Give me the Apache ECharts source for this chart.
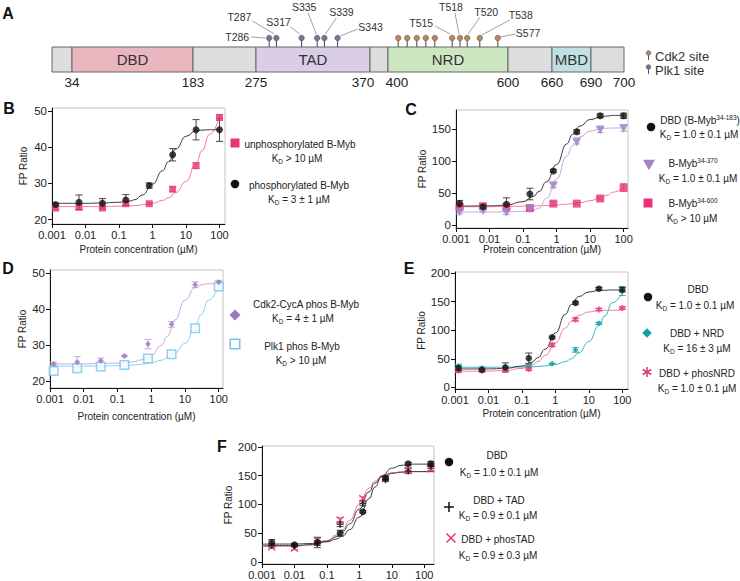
<!DOCTYPE html>
<html><head><meta charset="utf-8">
<script src="https://cdn.jsdelivr.net/npm/echarts@6/dist/echarts.min.js"></script>
<style>html,body{margin:0;padding:0;background:#fff}#c{width:740px;height:581px}</style>
</head><body><div id="c"></div>
<script>
// ===================== DATA =====================
// Panel A – B-Myb domain schematic
const domainKnots = [1, 34, 183, 275, 370, 400, 600, 660, 690, 700];
const domainNames = ['', 'DBD', '', 'TAD', '', 'NRD', '', 'MBD', ''];
const residueLabels = [34, 183, 275, 370, 400, 600, 660, 690, 700];
const plk1Sites = [286, 292, 313, 326, 332, 343];
const plk1Labels = ['T286', 'T287', 'S317', 'S335', 'S339', 'S343'];
const cdk2Sites = [417, 432, 448, 463, 478, 507, 520, 532, 553, 583];
const cdk2Labels = ['', '', '', '', '', 'T515', 'T518', 'T520', 'T538', 'S577'];

// common x tick labels (µM)
const xTickValues = [0.001, 0.01, 0.1, 1, 10, 100];

// concentrations (µM), 5-fold dilution series
const conc = [0.00128, 0.0064, 0.032, 0.16, 0.8, 4, 20, 100];
const concF = [0.002, 0.01, 0.051, 0.256, 1.28, 6.4, 32, 160];
const fitX = [0.001, 0.01, 0.03, 0.1, 0.2, 0.3, 0.5, 1, 2, 3, 5, 10, 20, 30, 50, 100];
const fitXF = [0.001, 0.01, 0.03, 0.1, 0.2, 0.3, 0.5, 1, 2, 3, 5, 10, 20, 50, 200];

// Panel B
const bUnphos = [23.2, 23.4, 23.2, 24.4, 24.4, 28.4, 34.9, 48.2];
const bUnphosErr = [0.5, 0.6, 0.4, 0.4, 0.3, 0.6, 0.8, 0.8];
const bUnphosFit = [23.6, 23.6, 23.6, 23.7, 23.8, 23.9, 24.1, 24.5, 25.3, 26.0, 27.5, 30.5, 35.5, 39.0, 43.5, 48.3];
const bPhos = [24.2, 24.8, 24.5, 25.4, 29.4, 37.9, 44.8, 44.8];
const bPhosErr = [0.3, 2.0, 1.3, 1.5, 0.7, 1.7, 2.8, 3.2];
const bPhosFit = [24.5, 24.5, 24.6, 24.8, 25.1, 25.5, 26.8, 29.8, 33.5, 36.0, 39.5, 43.0, 44.5, 44.7, 44.8, 44.8];

// Panel C
const cDBD = [34, 29, 33, 49, 85, 146, 171, 171];
const cDBDErr = [5, 3, 10, 9, 2, 3, 3, 4];
const cDBDFit = [30, 30.5, 31.5, 37, 45, 53, 68, 95, 127, 142, 155, 165, 169, 170.5, 171.5, 172];
const c370 = [21, 23, 20, 26, 62, 130, 149, 151];
const c370Err = [3, 2, 3, 3, 3, 3, 4, 4];
const c370Fit = [21, 21, 21, 22, 24, 27, 42, 72, 108, 124, 138, 147, 150.5, 151.5, 152, 152];
const c600 = [29, 30, 29, 27, 34, 34, 42, 59];
const c600Err = [3, 2, 3, 3, 3, 2, 2, 6];
const c600Fit = [29, 29.2, 29.5, 30, 30.3, 30.6, 31, 32, 33, 34, 35.5, 38.5, 43, 46.5, 52, 59];

// Panel D
const dCdk = [24.8, 25.3, 25.7, 27.0, 30.3, 35.8, 46.8, 47.5];
const dCdkErr = [0.5, 1.5, 0.7, 0.2, 1.3, 0.8, 0.8, 0.5];
const dCdkFit = [24.8, 24.8, 24.9, 25.0, 25.2, 25.4, 25.9, 27.2, 30.0, 32.5, 37.0, 42.5, 46.0, 46.8, 47.1, 47.2];
const dPlk = [22.8, 23.6, 24.1, 24.5, 26.3, 27.5, 34.7, 46.3];
const dPlkErr = [0.4, 0.4, 0.3, 0.3, 0.3, 0.3, 0.5, 0.5];
const dPlkFit = [24.2, 24.2, 24.2, 24.3, 24.4, 24.5, 24.7, 25.1, 25.8, 26.5, 27.8, 30.5, 35.0, 38.5, 42.5, 46.5];

// Panel E
const eDBD = [33.6, 30.7, 34.8, 51, 87.5, 147.8, 172.8, 171];
const eDBDErr = [4, 2, 8, 9, 2, 2, 2, 4];
const eDBDFit = [32, 32.2, 33, 37, 44, 52, 67, 95, 128, 145, 159, 167, 169.5, 170, 170.5, 170.5];
const eNRD = [36.5, 33.6, 34.8, 37.7, 41.2, 65.5, 112, 168.7];
const eNRDErr = [4, 2, 2, 2, 1, 4, 2, 8];
const eNRDFit = [35, 35, 35.2, 35.5, 36, 36.5, 37.5, 40, 45, 50, 60, 80, 108, 125, 148, 166];
const ePhosNRD = [29, 29, 30.7, 31.9, 74.2, 118.8, 136.2, 139];
const ePhosNRDErr = [3, 2, 2, 2, 3, 3, 2, 2];
const ePhosNRDFit = [28, 28.3, 29.5, 33, 39, 45, 56, 78, 104, 116, 126, 132, 134.5, 135, 135, 135];

// Panel F
const fDBD = [33.9, 29.9, 33.9, 50, 87.4, 146, 170.7, 170.7];
const fDBDErr = [5, 2, 9, 5, 2, 3, 2, 4];
const fDBDFit = [31, 31.2, 32, 35, 40, 45, 56, 78, 110, 130, 150, 163, 168, 170, 170];
const fTAD = [28.7, 28.2, 32.8, 65.5, 101.7, 143, 158, 166.7];
const fTADErr = [3, 2, 4, 4, 4, 3, 4, 4];
const fTADFit = [28, 28.5, 30, 36, 44, 52, 66, 92, 122, 137, 148, 154, 156, 157, 157];
const fPhosTAD = [25.9, 24.1, 37.4, 73, 110.3, 144.8, 159.2, 162];
const fPhosTADErr = [2, 3, 4, 4, 3, 3, 4, 3];
const fPhosTADFit = [27, 27.5, 29.5, 37, 47, 56, 72, 100, 128, 140, 150, 155, 156.5, 157, 157];

// ===================== LAYOUT / STYLE =====================
const FONT = '"Liberation Sans", Arial, Helvetica, sans-serif';
const schematicSegWidth = [20, 121, 63, 114, 18, 120, 44, 39, 33]; // drawn (not to scale) width of each segment
const domainColor = {'': '#dddddd', DBD: '#e9b6c0', TAD: '#dacde6', NRD: '#cee7c2', MBD: '#c0e1e3'};
const COL = {
  black: '#111111', blackLine: '#3a3a3a', blackErr: '#444444',
  pink: '#e8337a', pinkLine: '#f27aa7', pinkErr: '#ee6a9b',
  purple: '#a284c6', purpleLine: '#c2a8dc', purpleErr: '#b79bd4',
  dpurple: '#9a78bd', dpurpleLine: '#c4a9df',
  blue: '#74c4ee', blueLine: '#8ed1f3',
  teal: '#16a0a3', tealLine: '#39b6b8',
  cdk2: '#b98558', plk1: '#6b7898'
};

// residue -> schematic coordinate (piecewise linear)
const cum = [0];
schematicSegWidth.forEach((w, i) => cum.push(cum[i] + w));
function toDrawn(r) {
  for (let i = 0; i < domainKnots.length - 1; i++) {
    if (r <= domainKnots[i + 1] || i === domainKnots.length - 2) {
      const t = (r - domainKnots[i]) / (domainKnots[i + 1] - domainKnots[i]);
      return cum[i] + t * schematicSegWidth[i];
    }
  }
}

const option = {
  animation: false,
  textStyle: {fontFamily: FONT},
  grid: [], xAxis: [], yAxis: [], series: [], graphic: []
};

// ---------- Panel A ----------
option.grid.push({left: 52, top: 47, width: 572, height: 25, show: false});
option.xAxis.push({type: 'value', gridIndex: 0, min: 0, max: cum[cum.length - 1], show: false});
option.yAxis.push({type: 'value', gridIndex: 0, min: 0, max: 1, show: false});

const segData = domainNames.map((n, i) => [domainKnots[i], domainKnots[i + 1], i]);
option.series.push({
  type: 'custom', xAxisIndex: 0, yAxisIndex: 0, silent: true, clip: false,
  data: segData,
  renderItem: (p, api) => {
    const i = api.value(2);
    const a = api.coord([toDrawn(api.value(0)), 1]);
    const b = api.coord([toDrawn(api.value(1)), 0]);
    const name = domainNames[i];
    return {
      type: 'rect', shape: {x: a[0], y: a[1], width: b[0] - a[0], height: b[1] - a[1]},
      style: {fill: domainColor[name], stroke: '#666', lineWidth: 1},
      textContent: {style: {text: name, fontSize: 15, fill: '#333', fontFamily: FONT}},
      textConfig: {position: 'inside'}
    };
  }
});
// residue numbers
const resLabelDx = {370: -7, 400: 9};
option.series.push({
  type: 'custom', xAxisIndex: 0, yAxisIndex: 0, silent: true, clip: false,
  data: residueLabels.map(r => [r]),
  renderItem: (p, api) => {
    const r = api.value(0);
    const c = api.coord([toDrawn(r), 0]);
    return {type: 'text', x: c[0] + (resLabelDx[r] || 0), y: c[1] + 10,
      style: {text: String(r), fontSize: 13.5, fill: '#222', align: 'center', verticalAlign: 'middle', fontFamily: FONT}};
  }
});
// phosphosite lollipops with labels
const siteLabelLayout = {
  T286: [-20, -1, 'right', -18, -1, -4, 0],
  T287: [-37, -21, 'center', -24, -17, -2, -4],
  S317: [-23, -16, 'center', -11, -11, -2, -4],
  S335: [-13, -31, 'center', -9, -25, -1, -4],
  S339: [17, -26, 'center', 12, -20, 1, -4],
  S343: [33, -11, 'center', 20, -9, 3, -2],
  T515: [-31, -15, 'center', -17, -12, -2, -4],
  T518: [-9, -31, 'center', -5, -25, -1, -4],
  T520: [19, -26, 'center', 13, -21, 1, -4],
  T538: [41, -23, 'center', 30, -18, 2, -3],
  S577: [18, -5, 'left', 18, -4, 3, -1]
};
const siteData = plk1Sites.map((s, i) => [s, 0, i]).concat(cdk2Sites.map((s, i) => [s, 1, i]));
option.series.push({
  type: 'custom', xAxisIndex: 0, yAxisIndex: 0, silent: true, clip: false,
  data: siteData,
  renderItem: (p, api) => {
    const kind = api.value(1), idx = api.value(2);
    const c = api.coord([toDrawn(api.value(0)), 1]);
    const x = c[0], y0 = c[1], hy = y0 - 9;
    const label = kind === 0 ? plk1Labels[idx] : cdk2Labels[idx];
    const ch = [
      {type: 'line', shape: {x1: x, y1: y0, x2: x, y2: hy}, style: {stroke: '#444', lineWidth: 1}},
      {type: 'circle', shape: {cx: x, cy: hy, r: 2.8}, style: {fill: kind === 0 ? COL.plk1 : COL.cdk2, stroke: '#555', lineWidth: 0.5}}
    ];
    if (label) {
      const L = siteLabelLayout[label];
      ch.push({type: 'text', x: x + L[0], y: hy + L[1],
        style: {text: label, fontSize: 10.5, fill: '#333', align: L[2], verticalAlign: 'middle', fontFamily: FONT}});
      ch.push({type: 'line', shape: {x1: x + L[3], y1: hy + L[4], x2: x + L[5], y2: hy + L[6]},
        style: {stroke: '#777', lineWidth: 0.7}});
    }
    return {type: 'group', children: ch};
  }
});
// legend of panel A
[['Cdk2 site', COL.cdk2, 53], ['Plk1 site', COL.plk1, 67]].forEach(([t, c, y]) => {
  option.graphic.push({type: 'line', shape: {x1: 648.5, y1: y, x2: 648.5, y2: y + 7}, style: {stroke: '#555', lineWidth: 1}});
  option.graphic.push({type: 'circle', shape: {cx: 648.5, cy: y, r: 2.4}, style: {fill: c, stroke: '#555', lineWidth: 0.5}});
  option.graphic.push({type: 'text', x: 655, y: y + 3.5, style: {text: t, fontSize: 13, lineHeight: 13, fill: '#333', verticalAlign: 'middle', fontFamily: FONT}});
});

// ---------- Binding panels ----------
function fmtTick(v) { return String(parseFloat(Number(v).toPrecision(3))); }
const panels = [
  {grid: {left: 52, top: 108, width: 173, height: 116}, xMax: 146, yMin: 18.8, yMax: 50.8, yTicks: [20, 30, 40, 50], xGap: 20, yGap: 24, xName: true},
  {grid: {left: 456, top: 110, width: 172, height: 118}, xMax: 135, yMin: -4, yMax: 180, yTicks: [0, 50, 100, 150], xGap: 16, yGap: 26, xName: true},
  {grid: {left: 50, top: 270, width: 173, height: 118}, xMax: 134, yMin: 18.1, yMax: 50.9, yTicks: [20, 30, 40, 50], xGap: 23, yGap: 23, xName: true},
  {grid: {left: 455, top: 272, width: 173, height: 117}, xMax: 148, yMin: -3, yMax: 202, yTicks: [0, 50, 100, 150, 200], xGap: 19, yGap: 25, xName: true},
  {grid: {left: 262, top: 446, width: 172, height: 118}, xMax: 200, yMin: -3.5, yMax: 201.5, yTicks: [0, 50, 100, 150, 200], xGap: 19, yGap: 27, xName: false}
];
panels.forEach((pn, k) => {
  const gi = k + 1;
  option.grid.push(Object.assign({show: true, borderColor: '#c4c4c4', borderWidth: 1, backgroundColor: 'transparent'}, pn.grid));
  option.xAxis.push({
    type: 'log', logBase: 10, gridIndex: gi, min: 0.001, max: pn.xMax,
    axisLine: {show: true, onZero: false, lineStyle: {color: '#111', width: 1}},
    axisTick: {show: true, length: 4, customValues: xTickValues, lineStyle: {color: '#111'}},
    minorTick: {show: false}, splitLine: {show: false},
    axisLabel: {customValues: xTickValues, fontSize: 11, color: '#222', margin: 5, fontFamily: FONT, formatter: fmtTick},
    name: pn.xName ? 'Protein concentration (µM)' : '', nameLocation: 'middle', nameGap: pn.xGap,
    nameTextStyle: {fontSize: 10, color: '#222', fontFamily: FONT}
  });
  option.yAxis.push({
    type: 'value', gridIndex: gi, min: pn.yMin, max: pn.yMax,
    axisLine: {show: true, onZero: false, lineStyle: {color: '#111', width: 1}},
    axisTick: {show: true, length: 4, customValues: pn.yTicks, lineStyle: {color: '#111'}},
    splitLine: {show: false},
    axisLabel: {customValues: pn.yTicks, fontSize: 11.5, color: '#222', margin: 5, fontFamily: FONT},
    name: 'FP Ratio', nameLocation: 'middle', nameGap: pn.yGap, nameRotate: 90,
    nameTextStyle: {fontSize: 10, color: '#222', fontFamily: FONT}
  });
});

function curve(gi, xs, ys, color) {
  option.series.push({type: 'line', xAxisIndex: gi, yAxisIndex: gi, data: xs.map((x, i) => [x, ys[i]]),
    showSymbol: false, smooth: 0.5, smoothMonotone: 'x', silent: true, z: 1,
    lineStyle: {color: color, width: 1}});
}
function errs(gi, xs, ys, es, color) {
  option.series.push({type: 'custom', xAxisIndex: gi, yAxisIndex: gi, silent: true, z: 2, clip: false,
    data: xs.map((x, i) => [x, ys[i] - es[i], ys[i] + es[i]]),
    encode: {x: 0, y: [1, 2]},
    renderItem: (p, api) => {
      const a = api.coord([api.value(0), api.value(1)]);
      const b = api.coord([api.value(0), api.value(2)]);
      const s = {stroke: color, lineWidth: 1};
      return {type: 'group', children: [
        {type: 'line', shape: {x1: a[0], y1: a[1], x2: b[0], y2: b[1]}, style: s},
        {type: 'line', shape: {x1: a[0] - 3.5, y1: a[1], x2: a[0] + 3.5, y2: a[1]}, style: s},
        {type: 'line', shape: {x1: b[0] - 3.5, y1: b[1], x2: b[0] + 3.5, y2: b[1]}, style: s}
      ]};
    }});
}
function pts(gi, name, xs, ys, sym, size, itemStyle, rotate) {
  option.series.push({type: 'scatter', name: name, xAxisIndex: gi, yAxisIndex: gi, z: 3,
    data: xs.map((x, i) => [x, ys[i]]), symbol: sym, symbolSize: size, symbolRotate: rotate || 0,
    itemStyle: itemStyle, silent: true});
}
const PLUS = 'path://M5,0L5,10M0,5L10,5';
const CROSS = 'path://M0,0L10,10M10,0L0,10';
const STAR = 'path://M5,0L5,10M0.67,2.5L9.33,7.5M0.67,7.5L9.33,2.5';

// B
curve(1, fitX, bUnphosFit, COL.pinkLine);
curve(1, fitX, bPhosFit, COL.blackLine);
errs(1, conc, bUnphos, bUnphosErr, COL.pinkErr);
errs(1, conc, bPhos, bPhosErr, COL.blackErr);
pts(1, 'unphosphorylated B-Myb', conc, bUnphos, 'rect', 7, {color: COL.pink});
pts(1, 'phosphorylated B-Myb', conc, bPhos, 'circle', 7, {color: COL.black});
// C
curve(2, fitX, c600Fit, COL.pinkLine);
curve(2, fitX, c370Fit, COL.purpleLine);
curve(2, fitX, cDBDFit, COL.blackLine);
errs(2, conc, c600, c600Err, COL.pinkErr);
errs(2, conc, c370, c370Err, COL.purpleErr);
errs(2, conc, cDBD, cDBDErr, COL.blackErr);
pts(2, 'B-Myb 34-600', conc, c600, 'rect', 8, {color: COL.pink});
pts(2, 'B-Myb 34-370', conc, c370, 'triangle', 9, {color: COL.purple}, 180);
pts(2, 'DBD', conc, cDBD, 'circle', 7, {color: COL.black});
// D
curve(3, fitX, dPlkFit, COL.blueLine);
curve(3, fitX, dCdkFit, COL.dpurpleLine);
errs(3, conc, dPlk, dPlkErr, COL.blueLine);
errs(3, conc, dCdk, dCdkErr, COL.dpurpleLine);
pts(3, 'Plk1 phos B-Myb', conc, dPlk, 'rect', 8.5, {color: '#fff', borderColor: COL.blue, borderWidth: 1.5});
pts(3, 'Cdk2-CycA phos B-Myb', conc, dCdk, 'diamond', 6, {color: COL.dpurple});
// E
curve(4, fitX, eNRDFit, COL.tealLine);
curve(4, fitX, ePhosNRDFit, COL.pinkLine);
curve(4, fitX, eDBDFit, COL.blackLine);
errs(4, conc, eNRD, eNRDErr, COL.tealLine);
errs(4, conc, ePhosNRD, ePhosNRDErr, COL.pinkErr);
errs(4, conc, eDBD, eDBDErr, COL.blackErr);
pts(4, 'DBD + NRD', conc, eNRD, 'diamond', 6, {color: COL.teal});
pts(4, 'DBD + phosNRD', conc, ePhosNRD, STAR, 6, {color: 'rgba(0,0,0,0)', borderColor: COL.pink, borderWidth: 1.8});
pts(4, 'DBD', conc, eDBD, 'circle', 6.5, {color: COL.black});
// F
curve(5, fitXF, fPhosTADFit, COL.pinkLine);
curve(5, fitXF, fTADFit, COL.blackLine);
curve(5, fitXF, fDBDFit, COL.blackLine);
errs(5, concF, fPhosTAD, fPhosTADErr, COL.pinkErr);
errs(5, concF, fTAD, fTADErr, COL.blackErr);
errs(5, concF, fDBD, fDBDErr, COL.blackErr);
pts(5, 'DBD + phosTAD', concF, fPhosTAD, CROSS, 7, {color: 'rgba(0,0,0,0)', borderColor: COL.pink, borderWidth: 1.5});
pts(5, 'DBD + TAD', concF, fTAD, PLUS, 7, {color: 'rgba(0,0,0,0)', borderColor: COL.black, borderWidth: 1.5});
pts(5, 'DBD', concF, fDBD, 'circle', 7, {color: COL.black});

// ---------- Legends (graphic) ----------
const rich = {
  t: {fontSize: 10, fill: '#222', fontFamily: FONT, lineHeight: 13},
  sub: {fontSize: 6.5, fill: '#222', fontFamily: FONT, lineHeight: 13, verticalAlign: 'bottom'},
  sup: {fontSize: 6.5, fill: '#222', fontFamily: FONT, lineHeight: 13, verticalAlign: 'top'}
};
function txt(x, y, text) {
  option.graphic.push({type: 'text', x: x, y: y,
    style: {text: text, rich: rich, align: 'center', verticalAlign: 'middle', fontFamily: FONT}});
}
function kd(s) { return '{t|K}{sub|D}{t| ' + s + '}'; }
function mk(type, x, y, s, color, filled) {
  const g = option.graphic;
  if (type === 'circle') g.push({type: 'circle', shape: {cx: x, cy: y, r: s / 2}, style: {fill: color}});
  if (type === 'rect') g.push({type: 'rect', shape: {x: x - s / 2, y: y - s / 2, width: s, height: s},
    style: filled ? {fill: color} : {fill: '#fff', stroke: color, lineWidth: 1.5}});
  if (type === 'tri') g.push({type: 'polygon', shape: {points: [[x - s / 2, y - s * 0.43], [x + s / 2, y - s * 0.43], [x, y + s * 0.43]]}, style: {fill: color}});
  if (type === 'diamond') g.push({type: 'polygon', shape: {points: [[x, y - s / 2], [x + s / 2, y], [x, y + s / 2], [x - s / 2, y]]}, style: {fill: color}});
  if (type === 'plus') {
    g.push({type: 'line', shape: {x1: x - s / 2, y1: y, x2: x + s / 2, y2: y}, style: {stroke: color, lineWidth: 1.5}});
    g.push({type: 'line', shape: {x1: x, y1: y - s / 2, x2: x, y2: y + s / 2}, style: {stroke: color, lineWidth: 1.5}});
  }
  if (type === 'cross') {
    g.push({type: 'line', shape: {x1: x - s / 2, y1: y - s / 2, x2: x + s / 2, y2: y + s / 2}, style: {stroke: color, lineWidth: 1.5}});
    g.push({type: 'line', shape: {x1: x + s / 2, y1: y - s / 2, x2: x - s / 2, y2: y + s / 2}, style: {stroke: color, lineWidth: 1.5}});
  }
  if (type === 'star') {
    const r = s / 2;
    [0, 60, 120].forEach(a => {
      const rad = (a + 90) * Math.PI / 180, dx = r * Math.cos(rad), dy = r * Math.sin(rad);
      g.push({type: 'line', shape: {x1: x - dx, y1: y - dy, x2: x + dx, y2: y + dy}, style: {stroke: color, lineWidth: 1.5}});
    });
  }
}
// B
mk('rect', 235, 143, 9, COL.pink, true); txt(300, 144, '{t|unphosphorylated B-Myb}'); txt(297, 158, kd('> 10 µM'));
mk('circle', 235, 184, 8.5, COL.black); txt(299, 185, '{t|phosphorylated B-Myb}'); txt(299, 199, kd('= 3 ± 1 µM'));
// C
mk('circle', 651, 127, 8.5, COL.black); txt(700, 120, '{t|DBD (B-Myb}{sup|34-183}{t|)}'); txt(699, 134, kd('= 1.0 ± 0.1 µM'));
mk('tri', 649, 165, 12, COL.purple); txt(693, 163, '{t|B-Myb}{sup|34-370}'); txt(698, 178, kd('= 1.0 ± 0.1 µM'));
mk('rect', 648, 203, 9, COL.pink, true); txt(693, 203, '{t|B-Myb}{sup|34-600}'); txt(692, 218, kd('> 10 µM'));
// D
mk('diamond', 235, 315, 11, COL.dpurple); txt(306, 304, '{t|Cdk2-CycA phos B-Myb}'); txt(303, 318, kd('= 4 ± 1 µM'));
mk('rect', 235, 344, 9.5, COL.blue, false); txt(302, 346, '{t|Plk1 phos B-Myb}'); txt(301, 360, kd('> 10 µM'));
// E
mk('circle', 648, 297, 8.5, COL.black); txt(698, 289, '{t|DBD}'); txt(695, 305, kd('= 1.0 ± 0.1 µM'));
mk('diamond', 647, 333, 9.5, COL.teal); txt(697, 333, '{t|DBD + NRD}'); txt(697, 348, kd('= 16 ± 3 µM'));
mk('star', 647, 372, 10, COL.pink); txt(697, 373, '{t|DBD + phosNRD}'); txt(697, 388, kd('= 1.0 ± 0.1 µM'));
// F
mk('circle', 449, 462, 8.5, COL.black); txt(497, 455, '{t|DBD}'); txt(499, 472, kd('= 1.0 ± 0.1 µM'));
mk('plus', 449, 507, 10, COL.black); txt(499, 500, '{t|DBD + TAD}'); txt(498, 515, kd('= 0.9 ± 0.1 µM'));
mk('cross', 451, 538, 9, COL.pink); txt(498, 539, '{t|DBD + phosTAD}'); txt(498, 555, kd('= 0.9 ± 0.3 µM'));

// panel letters
[['A', 8, 13], ['B', 9, 108], ['C', 411, 109], ['D', 8, 268], ['E', 409, 268], ['F', 222, 446]].forEach(([t, x, y]) => {
  option.graphic.push({type: 'text', x: x, y: y, style: {text: t, fontSize: 16, fontWeight: 'bold', fill: '#111',
    align: 'center', verticalAlign: 'middle', fontFamily: FONT}});
});

const chart = echarts.init(document.getElementById('c'), null, {renderer: 'svg'});
chart.setOption(option);
</script>
</body></html>
